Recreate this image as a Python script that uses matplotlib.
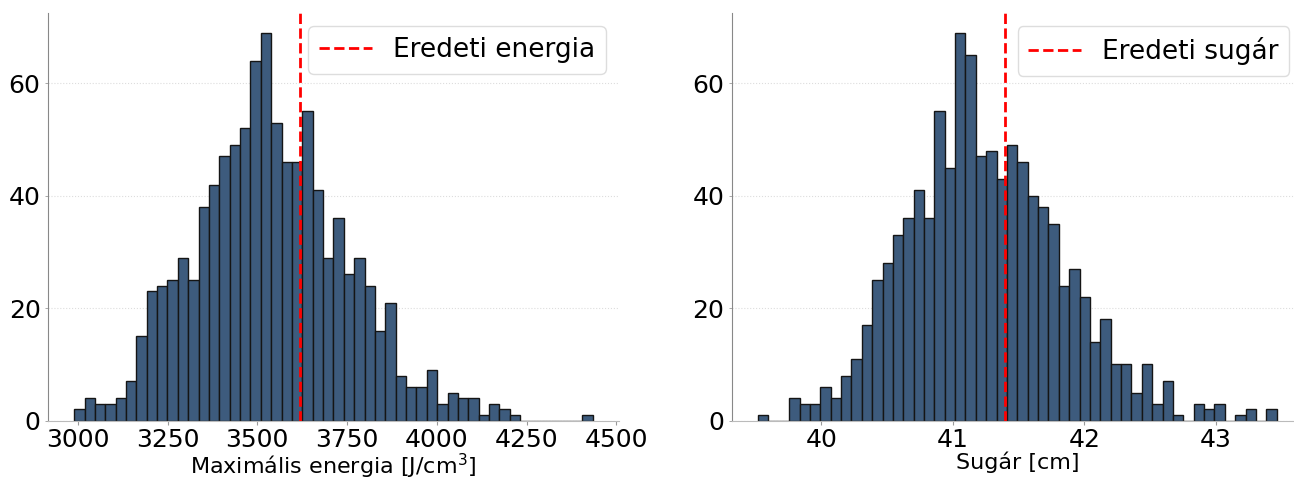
import numpy as np
import matplotlib
matplotlib.use("Agg")
import matplotlib.pyplot as plt

# Histogram of the maximal energy density (50 bins)
energy_range = (2990.0, 4434.0)
energy_counts = [2, 4, 3, 3, 4, 7, 15, 23, 24, 25, 29, 25, 38, 42, 47, 49, 52, 64, 69, 53,
                 46, 46, 55, 41, 29, 36, 26, 29, 24, 16, 21, 8, 6, 6, 9, 3, 5, 4, 4, 1,
                 3, 2, 1, 0, 0, 0, 0, 0, 0, 1]
energy_original = 3620.0
energy_ticks = [3000, 3250, 3500, 3750, 4000, 4250, 4500]

# Histogram of the radius (50 bins)
radius_range = (39.519, 43.462)
radius_counts = [1, 0, 0, 4, 3, 3, 6, 4, 8, 11, 17, 25, 28, 33, 36, 41, 36, 55, 45, 69,
                 65, 47, 48, 43, 49, 46, 40, 38, 35, 24, 27, 22, 14, 18, 10, 10, 5, 10, 3, 7,
                 1, 0, 3, 2, 3, 0, 1, 2, 0, 2]
radius_original = 41.4
radius_ticks = [40, 41, 42, 43]

y_ticks = [0, 20, 40, 60]

bar_color = "#3d5b7d"
edge_color = "#151515"

W, H = 1294, 480
fig = plt.figure(figsize=(W / 100, H / 100), dpi=100)

ax_bottom = (H - 420.7) / H
ax_height = (420.7 - 13.3) / H
ax_width = 570.5 / W
ax1 = fig.add_axes([48.2 / W, ax_bottom, ax_width, ax_height])
ax2 = fig.add_axes([732.1 / W, ax_bottom, ax_width, ax_height])


def draw(ax, rng, counts, original, label, xlabel, xticks):
    edges = np.linspace(rng[0], rng[1], len(counts) + 1)
    ax.hist(edges[:-1], bins=edges, weights=counts, color=bar_color,
            edgecolor=edge_color, linewidth=1.0, zorder=2)
    ax.axvline(original, color="red", linestyle="--", linewidth=2, label=label, zorder=3)
    ax.set_axisbelow(True)
    ax.grid(axis="y", color="#dddddd", linestyle=":", linewidth=0.8)
    ax.set_xticks(xticks)
    ax.set_yticks(y_ticks)
    ax.tick_params(axis="both", labelsize=18, colors="#999999", labelcolor="black")
    ax.tick_params(axis="x", length=3, width=0.8, pad=2)
    ax.tick_params(axis="y", length=2, width=0.6)
    for side in ("top", "right"):
        ax.spines[side].set_visible(False)
    ax.spines["left"].set_color("#888888")
    ax.spines["bottom"].set_color("#bbbbbb")
    ax.set_xlabel(xlabel, fontsize=16, labelpad=0)
    leg = ax.legend(loc="upper right", fontsize=19, framealpha=1.0, fancybox=True)
    leg.get_frame().set_edgecolor("#dddddd")


draw(ax1, energy_range, energy_counts, energy_original, "Eredeti energia",
     "Maximális energia [J/cm$^3$]", energy_ticks)
draw(ax2, radius_range, radius_counts, radius_original, "Eredeti sugár",
     "Sugár [cm]", radius_ticks)

fig.savefig("out.png", dpi=100)
